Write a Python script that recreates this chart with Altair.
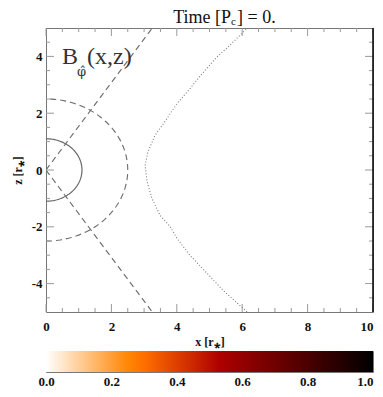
import altair as alt
import pandas as pd
import numpy as np

# ---- data ----
x_major = [0, 2, 4, 6, 8, 10]
x_minor = [0.5, 1, 1.5, 2.5, 3, 3.5, 4.5, 5, 5.5, 6.5, 7, 7.5, 8.5, 9, 9.5]
z_major = [-4, -2, 0, 2, 4]
z_minor = [-4.5, -3.5, -3, -2.5, -1.5, -1, -0.5, 0.5, 1, 1.5, 2.5, 3, 3.5, 4.5]
cb_ticks = [0.0, 0.2, 0.4, 0.6, 0.8, 1.0]

star_radius = 1.1
outer_radius = 2.5
cone_x = [0.0, 3.25]
cone_z = [0.0, 5.0]

dotted_z = [5.03, 4.33, 3.98, 3.39, 2.86, 2.33, 1.81, 1.21, 0.65, 0.16,
            -0.40, -1.00, -1.60, -1.98, -2.40, -3.00, -3.56, -4.23, -5.03]
dotted_x = [6.18, 5.57, 5.23, 4.77, 4.40, 4.00, 3.70, 3.33, 3.12, 3.03,
            3.09, 3.24, 3.49, 3.79, 4.00, 4.40, 4.86, 5.41, 6.18]

cmap_offsets = [0.0, 0.1, 0.2, 0.25, 0.3, 0.4, 0.5, 0.53, 0.75, 1.0]
cmap_colors = ["#ffffff", "#ffcf9b", "#ff9f37", "#ff8704", "#ff6f00",
               "#de3f00", "#b90f00", "#ae0000", "#5d0000", "#000000"]

W, H = 327, 284
SERIF = "Liberation Serif"
LINE = "#6a6a6a"
TICK = "#9a9a9a"

xs = alt.Scale(domain=[0, 10], nice=False, zero=False)
zs = alt.Scale(domain=[-5, 5], nice=False, zero=False)

x_axis = alt.Axis(values=x_major, labelExpr="datum.value", tickSize=0, domain=False,
                  grid=False, labelFont=SERIF, labelFontWeight="bold", labelFontSize=13,
                  labelPadding=8, labelFlush=False, labelColor="#111",
                  labelAlign={"condition": {"test": "datum.value == 10", "value": "right"},
                              "value": "center"},
                  title="x [r⁎]", titleFont=SERIF, titleFontWeight="bold",
                  titleFontSize=12, titlePadding=3, titleColor="#111")
z_axis = alt.Axis(values=z_major, labelExpr="datum.value", tickSize=0, domain=False,
                  grid=False, labelFont=SERIF, labelFontWeight="bold", labelFontSize=13,
                  labelPadding=4, labelFlush=False, labelColor="#111",
                  title="z [r⁎]", titleFont=SERIF, titleFontWeight="bold",
                  titleFontSize=12, titlePadding=7, titleColor="#111")


def X(field):
    return alt.X(field, type="quantitative", scale=xs, axis=x_axis)


def Z(field):
    return alt.Y(field, type="quantitative", scale=zs, axis=z_axis)


# circles (half circles, x >= 0)
t = np.linspace(-np.pi / 2, np.pi / 2, 91)
star_df = pd.DataFrame({"x": star_radius * np.cos(t), "z": star_radius * np.sin(t),
                        "i": np.arange(len(t))})
outer_df = pd.DataFrame({"x": outer_radius * np.cos(t), "z": outer_radius * np.sin(t),
                         "i": np.arange(len(t))})
cone_df = pd.DataFrame({
    "x": cone_x + cone_x,
    "z": cone_z + [-v for v in cone_z],
    "g": ["up", "up", "down", "down"],
    "i": [0, 1, 0, 1],
})
dotted_df = pd.DataFrame({"x": dotted_x, "z": dotted_z, "i": range(len(dotted_x))})

star = alt.Chart(star_df).mark_line(color=LINE, strokeWidth=1.2, clip=True).encode(
    x=X("x"), y=Z("z"), order="i:Q")
outer = alt.Chart(outer_df).mark_line(color=LINE, strokeWidth=1.1, strokeDash=[6, 4],
                                      clip=True).encode(x=X("x"), y=Z("z"), order="i:Q")
cone = alt.Chart(cone_df).mark_line(color=LINE, strokeWidth=1.1, strokeDash=[6, 4],
                                    clip=True).encode(x=X("x"), y=Z("z"), detail="g:N",
                                                      order="i:Q")
dotted = alt.Chart(dotted_df).mark_line(color="#7a7a7a", strokeWidth=1.1,
                                        strokeDash=[1, 2], clip=True).encode(
    x=X("x"), y=Z("z"), order="i:Q")


# inward ticks on all four sides
def xticks(vals, length, top):
    y0 = 0 if top else H
    y1 = length if top else H - length
    return alt.Chart(pd.DataFrame({"x": vals})).mark_rule(color=TICK, strokeWidth=1).encode(
        x=X("x"), y=alt.value(y0), y2=alt.value(y1))


def zticks(vals, length, right):
    x0 = W if right else 0
    x1 = W - length if right else length
    return alt.Chart(pd.DataFrame({"z": vals})).mark_rule(color=TICK, strokeWidth=1).encode(
        y=Z("z"), x=alt.value(x0), x2=alt.value(x1))


ticks = [xticks(x_major, 8, False), xticks(x_minor, 4, False),
         xticks(x_major, 8, True), xticks(x_minor, 4, True),
         zticks(z_major, 8, False), zticks(z_minor, 4, False),
         zticks(z_major, 8, True), zticks(z_minor, 4, True)]

right_edge = alt.Chart(pd.DataFrame({"v": [0]})).mark_rule(color="#111", strokeWidth=1.6).encode(
    x=alt.value(W), y=alt.value(0), y2=alt.value(H))


def label(txt, x, y, size, align="left", color="#111", font=SERIF, baseline="alphabetic"):
    return alt.Chart(pd.DataFrame({"t": [txt]})).mark_text(
        font=font, fontSize=size, align=align, baseline=baseline, color=color).encode(
        text="t:N", x=alt.value(x), y=alt.value(y))


title_parts = [
    label("Time [P", 185, -5, 18, align="right"),
    label("c", 185, -3, 11),
    label("] = 0.", 191, -5, 18),
]
b_label = [
    label("B", 16, 36, 24, color="#333"),
    label("φ̂", 31, 48, 13, color="#333", font="DejaVu Serif"),
    label("(x,z)", 41, 36, 24, color="#333"),
]

main = alt.layer(outer, cone, star, dotted, *ticks, right_edge, *title_parts, *b_label).properties(
    width=W, height=H, view=alt.ViewBackground(stroke="#777", strokeWidth=1))

# colour bar
cb_df = pd.DataFrame({"a": [0.0], "b": [1.0]})
grad = alt.Gradient(gradient="linear", x1=0, x2=1, y1=0, y2=0,
                    stops=[alt.GradientStop(offset=o, color=c)
                           for o, c in zip(cmap_offsets, cmap_colors)])
cbar = alt.Chart(cb_df).mark_rect(fill=grad).encode(
    x=alt.X("a:Q", scale=alt.Scale(domain=[0, 1], nice=False, zero=False),
            axis=alt.Axis(values=cb_ticks, format=".1f", tickSize=0, domain=False,
                          grid=False, labelFont=SERIF, labelFontWeight="bold",
                          labelFontSize=13, labelPadding=3, labelFlush=False,
                          labelAlign={"condition": {"test": "datum.value == 1",
                                                    "value": "right"},
                                      "value": "center"},
                          labelColor="#111", title=None)),
    x2="b:Q",
).properties(width=W, height=21, view=alt.ViewBackground(stroke="#777", strokeWidth=1))

chart = alt.vconcat(main, cbar, spacing=39, bounds="flush").properties(
    padding={"left": 2, "top": 0, "right": 0, "bottom": 0})

chart.save("out.html", embed_options={"renderer": "svg", "actions": False})
